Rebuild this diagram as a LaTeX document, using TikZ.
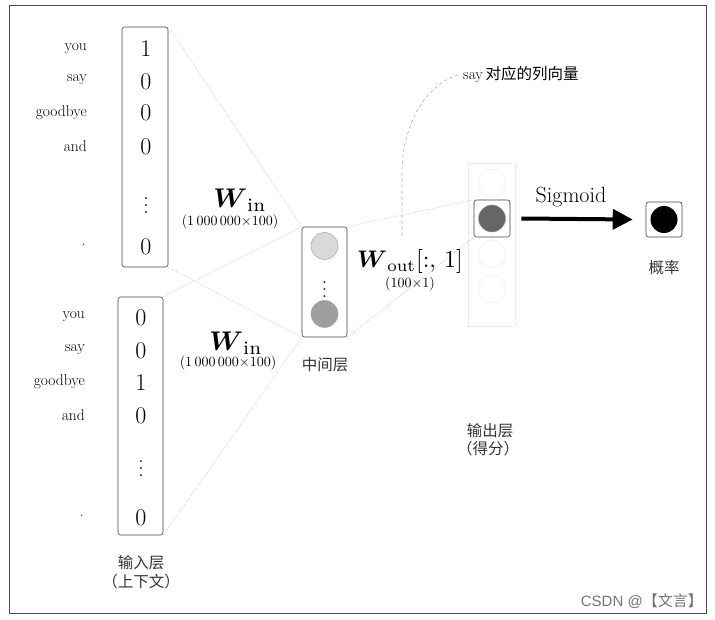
\documentclass[tikz,border=0pt]{standalone}
\usepackage{amsmath,amsbsy}
\usepackage{fontspec}
\newfontfamily\cjk{Noto Sans CJK SC}
\newfontfamily\wmfont{Liberation Sans}
\usetikzlibrary{arrows.meta}
\tikzset{
  vecbox/.style={draw=black!75, rounded corners=2.5pt, line width=0.6pt, inner sep=0pt},
  digit/.style={font=\fontsize{24}{28}\selectfont, inner sep=0pt},
  vdotsn/.style={scale=1.75, inner sep=0pt},
  word/.style={font=\fontsize{15.5}{18}\selectfont, anchor=east, inner sep=0pt},
  conn/.style={draw=gray!60, densely dotted, line width=0.5pt},
  neuron/.style={circle, minimum size=27pt, inner sep=0pt, draw=gray!80, line width=0.4pt},
  ghost/.style={circle, minimum size=27pt, inner sep=0pt, draw=gray!15, line width=0.5pt},
  wlabel/.style={scale=2.7, inner sep=0pt},
  dimlabel/.style={scale=1.4, inner sep=0pt},
  cjklabel/.style={font=\cjk\fontsize{15.5}{19}\selectfont, inner sep=0pt, text=black!80},
}
\begin{document}
\begin{tikzpicture}[x=1pt,y=-1pt]
\useasboundingbox (0,0) rectangle (715,620);
% frame
\draw[black!70, line width=0.7pt] (9,5) rectangle (706,613);

% top input vector
\node[vecbox, minimum width=46pt, minimum height=240pt] (tin) at (145,147) {};
\node[digit] (t1) at (146,49) {1};
\node[digit] (t2) at (146,82) {0};
\node[digit] (t3) at (146,113) {0};
\node[digit] (t4) at (146,147) {0};
\node[vdotsn] (t5) at (146,200) {$\vdots$};
\node[digit] (t6) at (146,247) {0};
\node[word] (tw1) at (87,49) {you};
\node[word] (tw2) at (87,80) {say};
\node[word] (tw3) at (87,113) {goodbye};
\node[word] (tw4) at (87,146) {and};
\node[word] (tw5) at (86,245) {.};

% bottom input vector
\node[vecbox, minimum width=45pt, minimum height=238pt] (bin) at (140.5,416) {};
\node[digit] (b1) at (141,318) {0};
\node[digit] (b2) at (141,351) {0};
\node[digit] (b3) at (141,383) {1};
\node[digit] (b4) at (141,416) {0};
\node[vdotsn] (b5) at (141,463) {$\vdots$};
\node[digit] (b6) at (141,518) {0};
\node[word] (bw1) at (85,317) {you};
\node[word] (bw2) at (85,350) {say};
\node[word] (bw3) at (85,382) {goodbye};
\node[word] (bw4) at (85,415) {and};
\node[word] (bw5) at (84,516) {.};
\node[cjklabel] (inl1) at (141,563) {输入层};
\node[cjklabel] (inl2) at (141,582) {（上下文）};

% hidden layer
\node[vecbox, minimum width=45pt, minimum height=110pt] (hid) at (324.5,282) {};
\node[neuron, fill=gray!30] (h1) at (324.5,246) {};
\node[vdotsn] (hd) at (324.5,284) {$\vdots$};
\node[neuron, fill=gray!75] (h2) at (324.5,314) {};
\node[cjklabel] (hidl) at (325,365) {中间层};

% output layer (ghost column)
\draw[gray!25, densely dotted, line width=0.6pt] (468,163) rectangle (515,326);
\node[ghost] (g1) at (492,183) {};
\node[ghost] (g2) at (492,254) {};
\node[ghost] (g3) at (492,289) {};
\node[vecbox, minimum width=36pt, minimum height=37pt] (outb) at (492,218.5) {};
\node[neuron, fill=gray!80!black] (o1) at (492,218.5) {};
\node[cjklabel] (outl1) at (490,431) {输出层};
\node[cjklabel] (outl2) at (488,449) {（得分）};

% probability
\node[vecbox, minimum width=36pt, minimum height=35pt] (prob) at (664,219.5) {};
\node[circle, fill=black, minimum size=27pt, inner sep=0pt] (p1) at (664,219.5) {};
\node[cjklabel] (probl) at (664,268) {概率};

% connectors
\draw[conn] (tin.north east) -- (hid.north west);
\draw[conn] (tin.south east) -- (hid.south west);
\draw[conn] (bin.north east) -- (hid.north west);
\draw[conn] (bin.south east) -- (hid.south west);
\draw[conn] (hid.north east) -- (outb.north west);
\draw[conn] (hid.south east) -- (outb.south west);

% weight labels
\node[wlabel] (win1) at (240,200) {$\boldsymbol{W}_{\mathrm{in}}$};
\node[dimlabel] (win1d) at (230,222) {(1\,000\,000$\times$100)};
\node[wlabel] (win2) at (236,343) {$\boldsymbol{W}_{\mathrm{in}}$};
\node[dimlabel] (win2d) at (228,363) {(1\,000\,000$\times$100)};
\node[scale=2.4, inner sep=0pt] (wout) at (410,262) {$\boldsymbol{W}_{\mathrm{out}}[:,\,1]$};
\node[dimlabel] (woutd) at (410,284) {(100$\times$1)};

% sigmoid arrow
\coordinate (sa) at ([xshift=11pt]outb.east);
\coordinate (sb) at ([xshift=-13pt]prob.west);
\draw[line width=4pt, -{Triangle[length=20pt,width=20pt]}] (sa) -- (sb);
\node[font=\fontsize{22}{26}\selectfont, inner sep=0pt] (sig) at (571,197) {Sigmoid};

% annotation
\node[font=\fontsize{15.5}{18}\selectfont, inner sep=0pt, anchor=west] (say) at (463,75) {say\,{\cjk 对应的列向量}};
\coordinate (cend) at (402,238);
\coordinate (cst) at ([xshift=-5pt]say.west);
\draw[gray!70, dashed, line width=0.6pt] (cst) .. controls (425,85) and (403,125) .. (402,170) -- (cend);

% watermark
\node[font=\wmfont\fontsize{15}{17}\selectfont, text=black!55, anchor=east, inner sep=0pt] (wm) at (703,601) {CSDN @{\cjk【文言】}};
\end{tikzpicture}
\end{document}
